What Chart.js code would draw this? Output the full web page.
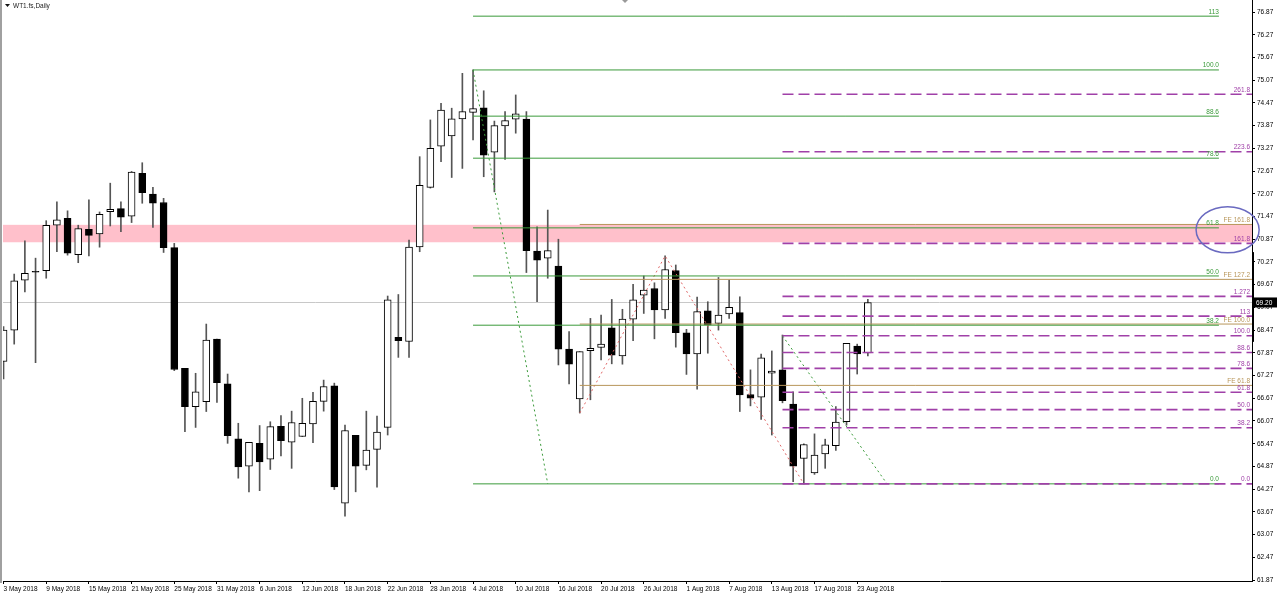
<!DOCTYPE html>
<html>
<head>
<meta charset="utf-8">
<script src="https://cdn.jsdelivr.net/npm/chart.js@4.4.0/dist/chart.umd.min.js"></script>
<style>
  html, body { margin: 0; padding: 0; background: #fff; }
  #wrap { width: 1280px; height: 595px; position: relative; }
</style>
</head>
<body>
<div id="wrap"><canvas id="chart"></canvas></div>
<script>
// WT1.fs daily bars, 3 May - 24 Aug 2018
const dates = [
  '3 May 2018', '4 May 2018', '7 May 2018', '8 May 2018', '9 May 2018', '10 May 2018', '11 May 2018',
  '14 May 2018', '15 May 2018', '16 May 2018', '17 May 2018', '18 May 2018', '21 May 2018', '22 May 2018',
  '23 May 2018', '24 May 2018', '25 May 2018', '28 May 2018', '29 May 2018', '30 May 2018', '31 May 2018',
  '1 Jun 2018', '4 Jun 2018', '5 Jun 2018', '6 Jun 2018', '7 Jun 2018', '8 Jun 2018', '11 Jun 2018',
  '12 Jun 2018', '13 Jun 2018', '14 Jun 2018', '15 Jun 2018', '18 Jun 2018', '19 Jun 2018', '20 Jun 2018',
  '21 Jun 2018', '22 Jun 2018', '25 Jun 2018', '26 Jun 2018', '27 Jun 2018', '28 Jun 2018', '29 Jun 2018',
  '2 Jul 2018', '3 Jul 2018', '4 Jul 2018', '5 Jul 2018', '6 Jul 2018', '9 Jul 2018', '10 Jul 2018',
  '11 Jul 2018', '12 Jul 2018', '13 Jul 2018', '16 Jul 2018', '17 Jul 2018', '18 Jul 2018', '19 Jul 2018',
  '20 Jul 2018', '23 Jul 2018', '24 Jul 2018', '25 Jul 2018', '26 Jul 2018', '27 Jul 2018', '30 Jul 2018',
  '31 Jul 2018', '1 Aug 2018', '2 Aug 2018', '3 Aug 2018', '6 Aug 2018', '7 Aug 2018', '8 Aug 2018',
  '9 Aug 2018', '10 Aug 2018', '13 Aug 2018', '14 Aug 2018', '15 Aug 2018', '16 Aug 2018', '17 Aug 2018',
  '20 Aug 2018', '21 Aug 2018', '22 Aug 2018', '23 Aug 2018', '24 Aug 2018'
];
const opens = [
  67.64, 68.47, 69.79, 70.02, 70.04, 71.24, 71.42, 70.46, 71.13, 71.01,
  71.60, 71.68, 71.48, 72.61, 72.06, 71.84, 70.65, 67.46, 66.45, 66.58,
  68.23, 67.05, 65.60, 64.88, 65.48, 65.06, 65.93, 65.51, 65.66, 65.99,
  66.59, 67.00, 63.90, 65.69, 64.90, 65.32, 65.90, 68.28, 68.17, 70.67,
  72.24, 73.33, 73.60, 74.05, 74.22, 74.34, 73.17, 73.86, 74.04, 74.04,
  70.56, 70.37, 70.16, 67.97, 66.65, 67.93, 68.01, 68.53, 67.79, 68.76,
  69.39, 69.57, 69.00, 70.04, 68.40, 67.84, 68.98, 68.65, 68.90, 68.93,
  66.77, 66.70, 67.33, 67.42, 66.52, 65.08, 64.70, 65.20, 65.42, 66.05,
  68.05, 67.87
];
const highs = [
  68.56, 69.95, 70.83, 70.37, 71.36, 71.86, 71.62, 71.24, 71.91, 71.59,
  72.35, 71.86, 72.66, 72.89, 72.24, 71.95, 70.76, 67.46, 67.33, 68.63,
  68.23, 67.31, 66.01, 65.51, 65.95, 66.05, 66.21, 66.33, 66.67, 66.83,
  67.15, 67.07, 65.96, 65.69, 66.33, 66.20, 69.37, 69.41, 70.85, 73.05,
  74.02, 74.46, 74.33, 75.25, 75.34, 74.79, 73.99, 74.24, 74.68, 74.24,
  71.20, 71.64, 70.87, 68.43, 67.90, 68.78, 68.87, 69.28, 69.02, 69.68,
  69.90, 69.72, 70.43, 70.19, 68.49, 69.34, 69.22, 69.86, 69.79, 69.35,
  67.42, 67.84, 67.92, 68.34, 66.84, 65.47, 65.73, 65.59, 66.45, 68.12,
  68.10, 69.28
];
const lows = [
  67.18, 68.10, 69.48, 67.61, 69.84, 70.54, 70.45, 70.25, 70.43, 70.66,
  71.22, 71.07, 71.31, 71.82, 71.18, 70.52, 67.40, 65.79, 65.90, 66.32,
  66.56, 65.48, 64.56, 64.20, 64.23, 64.79, 65.15, 64.82, 65.66, 65.50,
  66.33, 64.26, 63.56, 64.20, 64.78, 64.32, 65.70, 67.75, 67.75, 70.54,
  72.22, 72.92, 72.50, 72.74, 73.49, 72.52, 72.12, 72.98, 73.67, 69.99,
  69.22, 69.84, 67.55, 67.05, 66.28, 66.63, 67.68, 67.58, 67.57, 68.19,
  68.91, 68.24, 68.78, 68.02, 67.30, 66.91, 67.86, 68.47, 68.78, 66.32,
  66.47, 66.11, 65.70, 66.55, 64.47, 64.41, 64.66, 64.82, 65.29, 65.96,
  67.31, 67.79
];
const closes = [
  68.47, 69.77, 69.97, 70.00, 71.24, 71.38, 70.50, 71.15, 70.97, 71.53,
  71.66, 71.45, 72.64, 72.10, 71.82, 70.65, 67.43, 66.45, 66.84, 68.21,
  67.08, 65.68, 64.86, 65.51, 64.99, 65.92, 65.55, 66.03, 66.01, 66.59,
  66.98, 64.33, 65.82, 64.88, 65.30, 65.78, 69.27, 68.19, 70.66, 72.29,
  73.27, 74.28, 74.05, 74.24, 74.32, 73.09, 73.87, 74.00, 74.18, 70.57,
  70.32, 70.57, 67.97, 67.57, 67.90, 67.99, 68.10, 67.81, 68.76, 69.27,
  69.53, 69.00, 70.07, 68.40, 67.84, 68.96, 68.61, 68.87, 69.07, 66.76,
  66.67, 67.74, 67.39, 66.61, 64.88, 65.45, 65.17, 65.44, 66.04, 68.12,
  67.84, 69.20
];

// axis ticks
const tickDates = [
  '3 May 2018', '9 May 2018', '15 May 2018', '21 May 2018', '25 May 2018', '31 May 2018', '6 Jun 2018',
  '12 Jun 2018', '18 Jun 2018', '22 Jun 2018', '28 Jun 2018', '4 Jul 2018', '10 Jul 2018', '16 Jul 2018',
  '20 Jul 2018', '26 Jul 2018', '1 Aug 2018', '7 Aug 2018', '13 Aug 2018', '17 Aug 2018', '23 Aug 2018'
];
const yTicks = [
  76.87, 76.27, 75.67, 75.07, 74.47, 73.87, 73.27, 72.67, 72.07, 71.47, 70.87, 70.27, 69.67,
  69.07, 68.47, 67.87, 67.27, 66.67, 66.07, 65.47, 64.87, 64.27, 63.67, 63.07, 62.47, 61.87
];

// Fibonacci retracement (green), from the 4 Jul high
const greenLevels = [76.76, 75.34, 74.12, 73.01, 71.17, 69.90, 68.60, 64.41];
const greenLabels = ['113', '100.0', '88.6', '78.6', '61.8', '50.0', '38.2', '0.0'];
// Fibonacci expansion (gold)
const goldLevels = [71.26, 69.81, 68.63, 67.01];
const goldLabels = ['FE 161.8', 'FE 127.2', 'FE 100.0', 'FE 61.8'];
// second retracement (purple dashed), from the 14 Aug swing
const purpleLevels = [74.70, 73.18, 70.76, 69.36, 68.84, 68.32, 67.88, 67.46, 66.83, 66.37, 65.89, 64.41];
const purpleLabels = ['261.8', '223.6', '161.8', '1.272', '113', '100.0', '88.6', '78.6', '61.8', '50.0', '38.2', '0.0'];

// trend lines: [bar index, price]
const greenTrend1 = [[44, 75.34], [51, 64.41]];
const greenTrend2 = [[73, 68.32], [82.8, 64.41]];
const redZigzag = [[54, 66.28], [62, 70.43], [75, 64.41]];

const pinkZone = [70.79, 71.25];
const circleBox = { x: [111.76, 117.67], y: [70.51, 71.73] };
const axisMark = [68.16, 70.53];

const FONT = '6.5px "Liberation Sans"';
const GREEN = '#3a9a3a', GOLD = '#b8965a', PURPLE = '#a040a8';

function levelSegments(levels, from, to) {
  const pts = [];
  levels.forEach(v => {
    pts.push({ x: from, y: v }, { x: to, y: v }, { x: to, y: null });
  });
  return pts;
}
function toPoints(arr) {
  return arr.map(p => ({ x: p[0], y: p[1] }));
}

const decor = {
  id: 'decor',
  beforeDatasetsDraw(chart) {
    const { ctx, chartArea: a, scales: { y } } = chart;
    ctx.save();
    // pink zone
    ctx.fillStyle = '#ffc0cb';
    const z1 = y.getPixelForValue(pinkZone[1]), z0 = y.getPixelForValue(pinkZone[0]);
    ctx.fillRect(a.left, z1, a.right - a.left, z0 - z1);
    // current price line
    const py = Math.round(y.getPixelForValue(closes[closes.length - 1])) + 0.5;
    ctx.strokeStyle = '#c8c8c8';
    ctx.lineWidth = 1;
    ctx.beginPath(); ctx.moveTo(a.left, py); ctx.lineTo(a.right, py); ctx.stroke();
    ctx.restore();
  },
  afterDraw(chart) {
    const { ctx, chartArea: a, scales: { x, y } } = chart;
    ctx.save();
    ctx.font = FONT;
    ctx.textBaseline = 'bottom';
    ctx.textAlign = 'right';
    const label = (txt, v, endIdx, color, dx) => {
      ctx.fillStyle = color;
      ctx.fillText(txt, x.getPixelForValue(endIdx) + (dx || 0), y.getPixelForValue(v) - 1);
    };
    greenLevels.forEach((v, i) => label(greenLabels[i], v, 113.9, GREEN));
    goldLevels.forEach((v, i) => label(goldLabels[i], v, 117, GOLD, -2));
    purpleLevels.forEach((v, i) => label(purpleLabels[i], v, 117, PURPLE, -2));

    // ellipse round the 161.8 cluster
    const ex0 = x.getPixelForValue(circleBox.x[0]), ex1 = x.getPixelForValue(circleBox.x[1]);
    const ey0 = y.getPixelForValue(circleBox.y[1]), ey1 = y.getPixelForValue(circleBox.y[0]);
    ctx.strokeStyle = '#6a6ac0';
    ctx.lineWidth = 1.5;
    ctx.beginPath();
    ctx.ellipse((ex0 + ex1) / 2, (ey0 + ey1) / 2, (ex1 - ex0) / 2, (ey1 - ey0) / 2, 0, 0, Math.PI * 2);
    ctx.stroke();

    // thick mark on price axis
    ctx.fillStyle = '#000';
    const m1 = y.getPixelForValue(axisMark[1]), m0 = y.getPixelForValue(axisMark[0]);
    ctx.fillRect(a.right, m1, 2, m0 - m1);

    // price tag
    const last = closes[closes.length - 1];
    const ty = y.getPixelForValue(last);
    ctx.fillStyle = '#000';
    ctx.fillRect(a.right + 1, ty - 5, 24, 10);
    ctx.fillStyle = '#fff';
    ctx.textAlign = 'left';
    ctx.textBaseline = 'middle';
    ctx.fillText(last.toFixed(2), a.right + 4, ty + 0.5);

    // left frame
    ctx.fillStyle = '#a0a0a0';
    ctx.fillRect(0, 0, 2, a.bottom + 2);

    // title
    ctx.fillStyle = '#111';
    ctx.beginPath(); ctx.moveTo(5, 4); ctx.lineTo(10, 4); ctx.lineTo(7.5, 7); ctx.closePath(); ctx.fill();
    ctx.fillStyle = '#222';
    ctx.fillText('WT1.fs,Daily', 13, 6);

    // chart shift marker
    ctx.fillStyle = '#999';
    ctx.beginPath(); ctx.moveTo(622, 0); ctx.lineTo(628, 0); ctx.lineTo(625, 3); ctx.closePath(); ctx.fill();
    ctx.restore();
  }
};

const lineBase = { type: 'line', pointRadius: 0, borderWidth: 1, spanGaps: false, fill: false };

new Chart(document.getElementById('chart'), {
  type: 'bar',
  data: {
    datasets: [
      Object.assign({}, lineBase, { label: 'fibo', data: levelSegments(greenLevels, 44, 113.9), borderColor: GREEN, order: -1 }),
      Object.assign({}, lineBase, { label: 'fe', data: levelSegments(goldLevels, 54, 117), borderColor: GOLD, order: -1 }),
      Object.assign({}, lineBase, { label: 'fibo2', data: levelSegments(purpleLevels, 73, 117), borderColor: PURPLE, borderWidth: 1.6, borderDash: [11, 5], order: -2 }),
      Object.assign({}, lineBase, { label: 'trend1', data: toPoints(greenTrend1), borderColor: GREEN, borderDash: [2, 3], order: -1 }),
      Object.assign({}, lineBase, { label: 'trend2', data: toPoints(greenTrend2), borderColor: GREEN, borderDash: [2, 3], order: -1 }),
      Object.assign({}, lineBase, { label: 'zigzag', data: toPoints(redZigzag), borderColor: '#e06868', borderDash: [2, 3], order: -1 }),
      {
        label: 'bodies',
        data: opens.map((o, i) => ({ x: i, y: [o, closes[i]] })),
        barThickness: 7,
        grouped: false,
        backgroundColor: c => closes[c.dataIndex] >= opens[c.dataIndex] ? '#ffffff' : '#000000',
        borderColor: '#000',
        borderWidth: 1,
        borderSkipped: false,
        order: 1
      },
      {
        label: 'wicks',
        data: lows.map((l, i) => ({ x: i, y: [l, highs[i]] })),
        barThickness: 1,
        grouped: false,
        backgroundColor: '#555',
        order: 2
      }
    ]
  },
  options: {
    responsive: true,
    maintainAspectRatio: false,
    animation: false,
    layout: { padding: { left: 3, top: 0, right: 0, bottom: 0 } },
    plugins: { legend: { display: false }, tooltip: { enabled: false } },
    scales: {
      x: {
        type: 'linear',
        min: -0.05,
        max: 117,
        offset: false,
        afterBuildTicks: s => { s.ticks = tickDates.map(d => ({ value: dates.indexOf(d) })); },
        afterFit: s => { s.height = 14; s.paddingLeft = 0; s.paddingRight = 0; },
        ticks: {
          autoSkip: false, maxRotation: 0, align: 'start', padding: 1, color: '#000',
          font: { family: 'Liberation Sans', size: 6.5 },
          callback: v => dates[v]
        },
        grid: { drawOnChartArea: false, tickLength: 3, color: '#000', offset: false },
        border: { color: '#000' }
      },
      y: {
        position: 'right',
        min: 61.845,
        max: 77.187,
        afterBuildTicks: s => { s.ticks = yTicks.map(v => ({ value: v })); },
        afterFit: s => { s.width = 28; s.paddingTop = 0; s.paddingBottom = 0; },
        ticks: {
          color: '#000', padding: 2,
          font: { family: 'Liberation Sans', size: 6.5 },
          callback: v => v.toFixed(2)
        },
        grid: { drawOnChartArea: false, tickLength: 3, color: '#000' },
        border: { color: '#000' }
      }
    }
  },
  plugins: [decor]
});
</script>
</body>
</html>
